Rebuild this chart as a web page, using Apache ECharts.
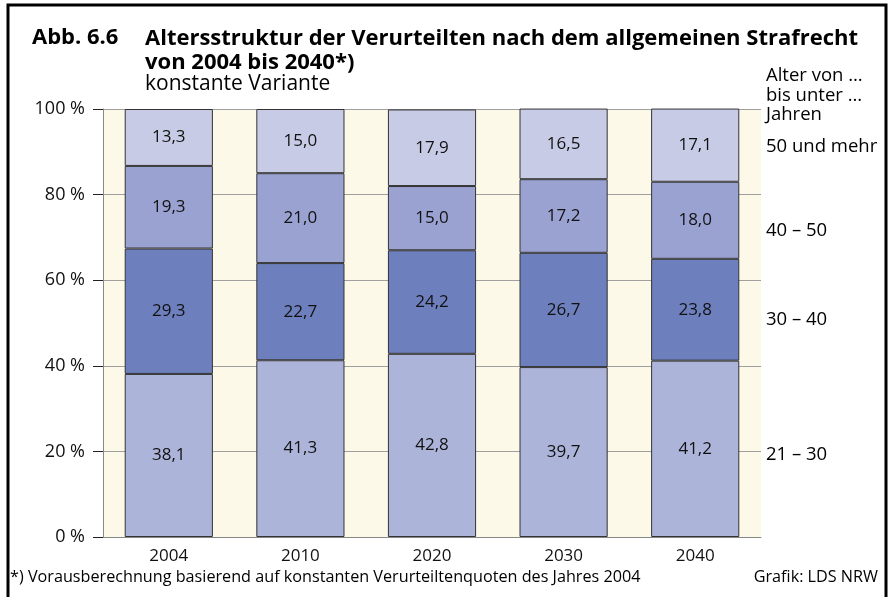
<!DOCTYPE html>
<html>
<head>
<meta charset="utf-8">
<script src="https://cdn.jsdelivr.net/npm/echarts@6/dist/echarts.min.js"></script>
<style>
  html, body { margin: 0; padding: 0; background: #fff; }
  #chart { width: 889px; height: 597px; }
</style>
</head>
<body>
<div id="chart"></div>
<script>
// Altersstruktur der Verurteilten, konstante Variante (Anteile in %)
const years = ['2004', '2010', '2020', '2030', '2040'];
const age21to30 = [38.1, 41.3, 42.8, 39.7, 41.2];
const age30to40 = [29.3, 22.7, 24.2, 26.7, 23.8];
const age40to50 = [19.3, 21.0, 15.0, 17.2, 18.0];
const age50plus = [13.3, 15.0, 17.9, 16.5, 17.1];
const groupNames = ['21 – 30', '30 – 40', '40 – 50', '50 und mehr'];
const yTicks = [0, 20, 40, 60, 80, 100];

const FONT = 'Open Sans';
const colors = ['#adb4da', '#6e7fbd', '#9aa2d2', '#c8cbe6'];
const seriesData = [age21to30, age30to40, age40to50, age50plus];

const chart = echarts.init(document.getElementById('chart'), null, { renderer: 'canvas' });

const series = seriesData.map((vals, i) => ({
  name: groupNames[i],
  type: 'bar',
  stack: 'total',
  barWidth: '67%',
  data: vals,
  itemStyle: { color: colors[i], borderColor: '#333', borderWidth: 1 },
  label: {
    show: true,
    position: 'inside',
    color: '#111',
    fontFamily: FONT,
    fontSize: 17,
    formatter: p => p.value.toFixed(1).replace('.', ',')
  },
  emphasis: { disabled: true }
}));

chart.setOption({
  animation: false,
  textStyle: { fontFamily: FONT },
  grid: {
    left: 103, right: 128, top: 109, bottom: 60,
    show: true, backgroundColor: '#fdf9e8', borderWidth: 0
  },
  xAxis: {
    type: 'category',
    data: years,
    axisLine: { show: true, lineStyle: { color: '#888', width: 1 } },
    axisTick: { show: false },
    axisLabel: { color: '#111', fontSize: 17, fontFamily: FONT, margin: 11 }
  },
  yAxis: {
    type: 'value',
    min: yTicks[0], max: yTicks[yTicks.length - 1], interval: 20,
    axisLine: { show: true, lineStyle: { color: '#888', width: 1 } },
    axisTick: { show: true, length: 10, lineStyle: { color: '#222', width: 1 } },
    axisLabel: { color: '#111', fontSize: 18, fontFamily: FONT, margin: 18, formatter: v => v + ' %' },
    splitLine: { show: true, lineStyle: { color: '#a0a0a0', width: 1 } }
  },
  series: series,
  graphic: [
    // outer frame
    { type: 'rect', shape: { x: 8, y: 5, width: 878, height: 600 },
      style: { fill: 'none', stroke: '#000', lineWidth: 3 }, silent: true },
    { type: 'text', left: 32, top: 27,
      style: { text: 'Abb. 6.6', font: 'bold 22px "' + FONT + '"', fill: '#000' } },
    { type: 'text', left: 145, top: 27,
      style: { text: 'Altersstruktur der Verurteilten nach dem allgemeinen Strafrecht\nvon 2004 bis 2040*)',
        font: 'bold 22px "' + FONT + '"', fill: '#000', lineHeight: 24 } },
    { type: 'text', left: 145, top: 74,
      style: { text: 'konstante Variante', font: '21px "' + FONT + '"', fill: '#000' } },
    { type: 'text', left: 766, top: 66,
      style: { text: 'Alter von …\nbis unter …\nJahren', font: '18.5px "' + FONT + '"', fill: '#000', lineHeight: 19.5 } },
    { type: 'text', left: 10, top: 569,
      style: { text: '*) Vorausberechnung basierend auf konstanten Verurteiltenquoten des Jahres 2004',
        font: '16.2px "' + FONT + '"', fill: '#000' } },
    { type: 'text', right: 11, top: 569,
      style: { text: 'Grafik: LDS NRW', font: '16.2px "' + FONT + '"', fill: '#000' } }
  ]
});

// Age-group names beside the last bar, placed at the data scale
const legendY = [19.5, 51, 72, 91.5];
const legendGraphics = groupNames.map((name, i) => {
  const y = chart.convertToPixel({ yAxisIndex: 0 }, legendY[i]);
  return {
    type: 'text', left: 766, top: y - 8,
    style: { text: name, font: '18.5px "' + FONT + '"', fill: '#000' }
  };
});
const existing = chart.getOption().graphic[0].elements;
chart.setOption({ graphic: existing.concat(legendGraphics) }, { replaceMerge: ['graphic'] });
</script>
</body>
</html>
